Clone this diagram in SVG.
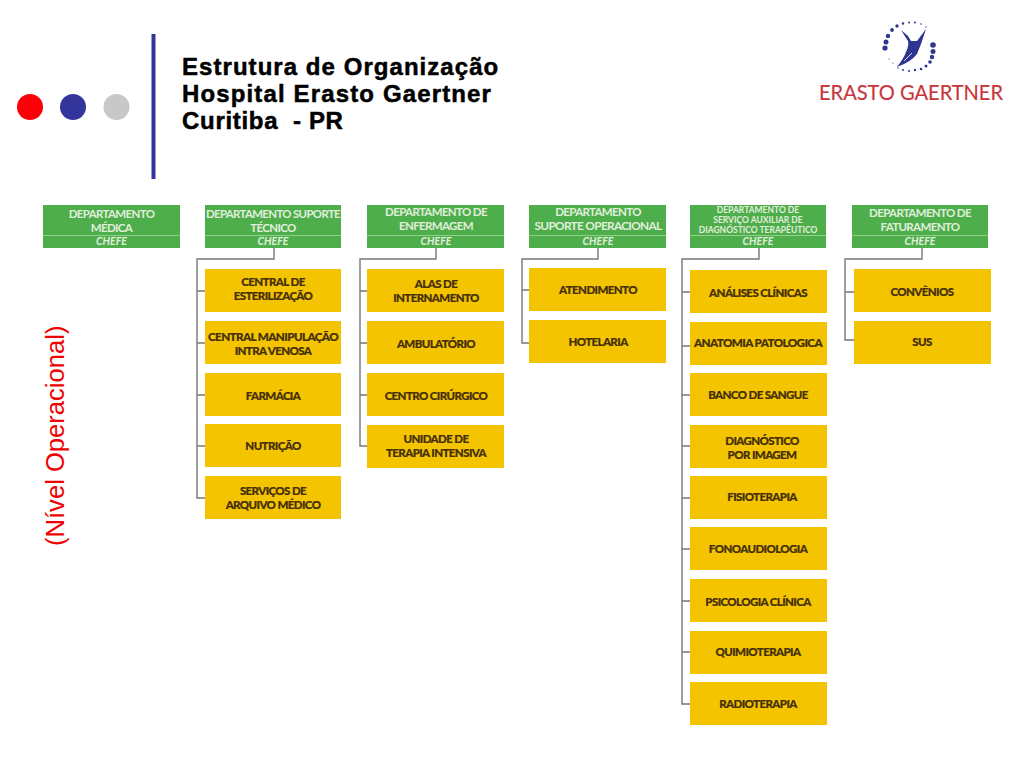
<svg xmlns="http://www.w3.org/2000/svg" width="1024" height="768" viewBox="0 0 1024 768">
<defs><style>
.g{fill:#4fae4c}
.y{fill:#f5c400}
.d{stroke:#8fd08a;stroke-width:1}
.gt{font-family:"Lato","Liberation Sans",sans-serif;font-weight:700;font-size:11.5px;fill:#e0efdc;text-anchor:middle;letter-spacing:-.65px}
.gs{font-size:8.5px;letter-spacing:0}
.ch{font-style:italic;font-size:10.5px;letter-spacing:0}
.yt{font-family:"Lato","Liberation Sans",sans-serif;font-weight:900;font-size:11.5px;fill:#45300a;stroke:#45300a;stroke-width:.2;text-anchor:middle;letter-spacing:-.6px}
.tt{font-family:"Liberation Sans",Arial,sans-serif;font-weight:700;font-size:24px;fill:#000;stroke:#000;stroke-width:.5;letter-spacing:1.05px}
.c{fill:none;stroke:#77777a;stroke-width:1.4}
.dot{fill:#2e3590}
</style></defs>
<rect width="1024" height="768" fill="#fff"/>
<g id="decor">
<circle cx="30" cy="107" r="13" fill="#fb0007"/>
<circle cx="73" cy="107" r="13" fill="#33359a"/>
<circle cx="116.500" cy="107" r="13" fill="#c8c8c8"/>
<rect x="151.500" y="34" width="4" height="145" fill="#33359a"/>
</g>
<g id="title">
<text class="tt" x="182" y="75">Estrutura de Organização</text>
<text class="tt" x="182" y="102" textLength="310">Hospital Erasto Gaertner</text>
<text class="tt" x="182" y="129" xml:space="preserve" textLength="162">Curitiba  - PR</text>
</g>
<g id="logo">
<g class="dot">
<circle cx="885" cy="48" r="2.600"/><circle cx="886" cy="42" r="2.500"/><circle cx="888" cy="36" r="2.200"/><circle cx="892" cy="30" r="1.900"/><circle cx="897" cy="26" r="1.700"/><circle cx="903" cy="23.500" r="1.200"/><circle cx="909" cy="22.500" r="1"/><circle cx="915" cy="22.500" r="1"/><circle cx="921" cy="24" r=".8"/><circle cx="926" cy="27" r=".7"/>
<circle cx="933" cy="45" r="2.800"/><circle cx="933" cy="51.500" r="2.500"/><circle cx="932" cy="57" r="2.200"/><circle cx="930" cy="62" r="1.800"/><circle cx="926" cy="66" r="1.500"/><circle cx="921" cy="69" r="1.300"/><circle cx="915" cy="70" r="1.200"/><circle cx="909" cy="71" r="1"/><circle cx="903" cy="70" r="1"/><circle cx="898" cy="68" r=".7"/><circle cx="893" cy="63" r=".6"/><circle cx="889" cy="59" r=".6"/>
</g>
<path class="dot" d="M901 30 L908 36 L911 41 L917 41 L926 29 L921 44 L917 54 Q911 62 897 67 Q904 58 906 52 Q909 46 908 41Z"/>
<path d="M904 61 L912 53" stroke="#fff" stroke-width=".8" fill="none"/>
<text x="819" y="99.500" font-family="Lato,'Liberation Sans',sans-serif" font-size="21" fill="#c8353a" stroke="#c8353a" stroke-width=".15" textLength="184" lengthAdjust="spacingAndGlyphs">ERASTO GAERTNER</text>
</g>
<text id="nivel" transform="translate(63.500 546) rotate(-90)" font-family="Liberation Sans,Arial,sans-serif" font-size="25.6" fill="#f00000">(Nível Operacional)</text>
<g id="connectors" class="c">
<path d="M274 248V259H197V498H205M197 291H205M197 343H205M197 395H205M197 446H205"/>
<path d="M436 248V259H360V446H367M360 291H367M360 343H367M360 395H367"/>
<path d="M598 248V259H522V343H529M522 290H529"/>
<path d="M759 248V259H682V704H690M682 292H690M682 346H690M682 395H690M682 446H690M682 498H690M682 549H690M682 601H690M682 652H690"/>
<path d="M922 248V259H845V340H854M845 292H854"/>
</g>
<g id="dept-medica"><rect class="g" x="43" y="205" width="137" height="43"/><path class="d" d="M43 235.500H180"/><text class="gt" x="111.500" y="218">DEPARTAMENTO</text><text class="gt" x="111.500" y="232">MÉDICA</text><text class="gt ch" x="111.500" y="245">CHEFE</text></g>
<g id="dept-tecnico"><rect class="g" x="205" y="205" width="136" height="43"/><path class="d" d="M205 235.500H341"/><text class="gt" x="273" y="218" textLength="134" lengthAdjust="spacingAndGlyphs">DEPARTAMENTO SUPORTE</text><text class="gt" x="273" y="232">TÉCNICO</text><text class="gt ch" x="273" y="245">CHEFE</text></g>
<g id="dept-enfermagem"><rect class="g" x="367" y="205" width="137" height="43"/><path class="d" d="M367 235.500H504"/><text class="gt" x="436" y="216">DEPARTAMENTO DE</text><text class="gt" x="436" y="230">ENFERMAGEM</text><text class="gt ch" x="436" y="245">CHEFE</text></g>
<g id="dept-operacional"><rect class="g" x="529" y="205" width="137" height="43"/><path class="d" d="M529 235.500H666"/><text class="gt" x="598" y="216">DEPARTAMENTO</text><text class="gt" x="598" y="230" textLength="127" lengthAdjust="spacingAndGlyphs">SUPORTE OPERACIONAL</text><text class="gt ch" x="598" y="245">CHEFE</text></g>
<g id="dept-diagnostico"><rect class="g" x="690" y="205" width="136" height="43"/><path class="d" d="M690 235.500H826"/><text class="gt gs" x="758" y="213">DEPARTAMENTO DE</text><text class="gt gs" x="758" y="223">SERVIÇO AUXILIAR DE</text><text class="gt gs" x="758" y="233">DIAGNÓSTICO TERAPÊUTICO</text><text class="gt ch" x="758" y="245">CHEFE</text></g>
<g id="dept-faturamento"><rect class="g" x="852" y="205" width="136" height="43"/><path class="d" d="M852 235.500H988"/><text class="gt" x="920" y="217">DEPARTAMENTO DE</text><text class="gt" x="920" y="231">FATURAMENTO</text><text class="gt ch" x="920" y="245">CHEFE</text></g>

<g id="n-esterilizacao"><rect class="y" x="205" y="269" width="136" height="43"/><text class="yt" x="273" y="286">CENTRAL DE</text><text class="yt" x="273" y="300">ESTERILIZAÇÃO</text></g>
<g id="n-manipulacao"><rect class="y" x="205" y="321" width="136" height="43"/><text class="yt" x="273" y="341" textLength="130" lengthAdjust="spacingAndGlyphs">CENTRAL MANIPULAÇÃO</text><text class="yt" x="273" y="355">INTRA VENOSA</text></g>
<g id="n-farmacia"><rect class="y" x="205" y="373" width="136" height="43"/><text class="yt" x="273" y="400">FARMÁCIA</text></g>
<g id="n-nutricao"><rect class="y" x="205" y="424" width="136" height="43"/><text class="yt" x="273" y="450">NUTRIÇÃO</text></g>
<g id="n-arquivo"><rect class="y" x="205" y="476" width="136" height="43"/><text class="yt" x="273" y="495">SERVIÇOS DE</text><text class="yt" x="273" y="509">ARQUIVO MÉDICO</text></g>

<g id="n-alas"><rect class="y" x="367" y="269" width="137" height="43"/><text class="yt" x="436" y="288">ALAS DE</text><text class="yt" x="436" y="302">INTERNAMENTO</text></g>
<g id="n-ambulatorio"><rect class="y" x="367" y="321" width="137" height="43"/><text class="yt" x="436" y="348">AMBULATÓRIO</text></g>
<g id="n-cirurgico"><rect class="y" x="367" y="373" width="137" height="43"/><text class="yt" x="436" y="400">CENTRO CIRÚRGICO</text></g>
<g id="n-uti"><rect class="y" x="367" y="425" width="137" height="43"/><text class="yt" x="436" y="443">UNIDADE DE</text><text class="yt" x="436" y="457">TERAPIA INTENSIVA</text></g>

<g id="n-atendimento"><rect class="y" x="529" y="268" width="137" height="43"/><text class="yt" x="598" y="294">ATENDIMENTO</text></g>
<g id="n-hotelaria"><rect class="y" x="529" y="320" width="137" height="43"/><text class="yt" x="598" y="346">HOTELARIA</text></g>

<g id="n-analises"><rect class="y" x="690" y="270" width="137" height="43"/><text class="yt" x="758" y="297">ANÁLISES CLÍNICAS</text></g>
<g id="n-anatomia"><rect class="y" x="690" y="322" width="137" height="43"/><text class="yt" x="758" y="347" textLength="128" lengthAdjust="spacingAndGlyphs">ANATOMIA PATOLOGICA</text></g>
<g id="n-sangue"><rect class="y" x="690" y="373" width="137" height="43"/><text class="yt" x="758" y="399">BANCO DE SANGUE</text></g>
<g id="n-imagem"><rect class="y" x="690" y="425" width="137" height="43"/><text class="yt" x="762" y="445">DIAGNÓSTICO</text><text class="yt" x="762" y="459">POR IMAGEM</text></g>
<g id="n-fisio"><rect class="y" x="690" y="476" width="137" height="43"/><text class="yt" x="762" y="501">FISIOTERAPIA</text></g>
<g id="n-fono"><rect class="y" x="690" y="527" width="137" height="43"/><text class="yt" x="758" y="553">FONOAUDIOLOGIA</text></g>
<g id="n-psico"><rect class="y" x="690" y="579" width="137" height="43"/><text class="yt" x="758" y="606">PSICOLOGIA CLÍNICA</text></g>
<g id="n-quimio"><rect class="y" x="690" y="631" width="137" height="43"/><text class="yt" x="758" y="656">QUIMIOTERAPIA</text></g>
<g id="n-radio"><rect class="y" x="690" y="682" width="137" height="43"/><text class="yt" x="758" y="708">RADIOTERAPIA</text></g>

<g id="n-convenios"><rect class="y" x="854" y="269" width="137" height="43"/><text class="yt" x="922" y="296">CONVÊNIOS</text></g>
<g id="n-sus"><rect class="y" x="854" y="321" width="137" height="43"/><text class="yt" x="922" y="346">SUS</text></g>
</svg>
